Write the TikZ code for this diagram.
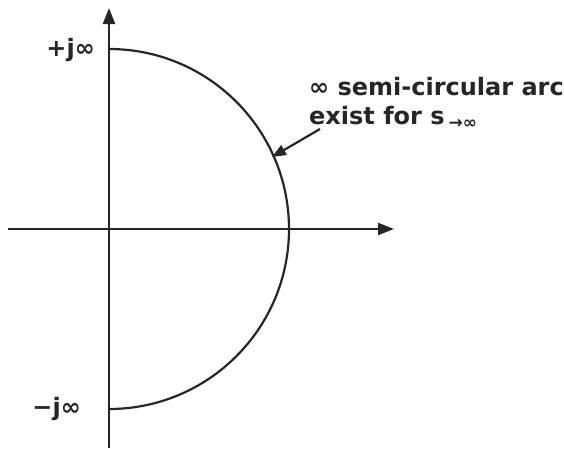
\documentclass[tikz,border=0pt]{standalone}
\usepackage{fontspec}
\setmainfont{DejaVu Sans}
\usetikzlibrary{arrows.meta}
\begin{document}
\begin{tikzpicture}[x=1pt,y=-1pt,
  axis/.style={line width=2.2pt,-{Triangle[length=16pt,width=12pt]},color=black!85},
  curve/.style={line width=2.2pt,color=black!85},
  lbl/.style={font=\bfseries\fontsize{24}{29}\selectfont,inner sep=0pt,text=black!85},
  note/.style={line width=2.2pt,-{Triangle[length=14pt,width=11pt]},color=black!85}]
\useasboundingbox (0,0) rectangle (564,448);
\coordinate (o) at (109,229);
\coordinate (ybot) at (109,448);
\coordinate (ytop) at (109,8);
\coordinate (xl) at (8,229);
\coordinate (xr) at (394,229);
\draw[axis] (ybot) -- (ytop);
\draw[axis] (xl) -- (xr);
\draw[curve] (109,49) arc[start angle=-90,end angle=90,radius=180];
\node[lbl,anchor=east] (pj) at (95,50) {+j∞};
\node[lbl,anchor=east] (mj) at (81,409) {−j∞};
\node[lbl,anchor=west,align=left] (txt) at (309,103) {∞ semi-circular arc\\exist for s\,\raisebox{-0.3ex}{\fontsize{17}{18}\selectfont →∞}};
\coordinate (ns) at (320,129);
\coordinate (ne) at (272,157);
\draw[note] (ns) -- (ne);
\end{tikzpicture}
\end{document}
